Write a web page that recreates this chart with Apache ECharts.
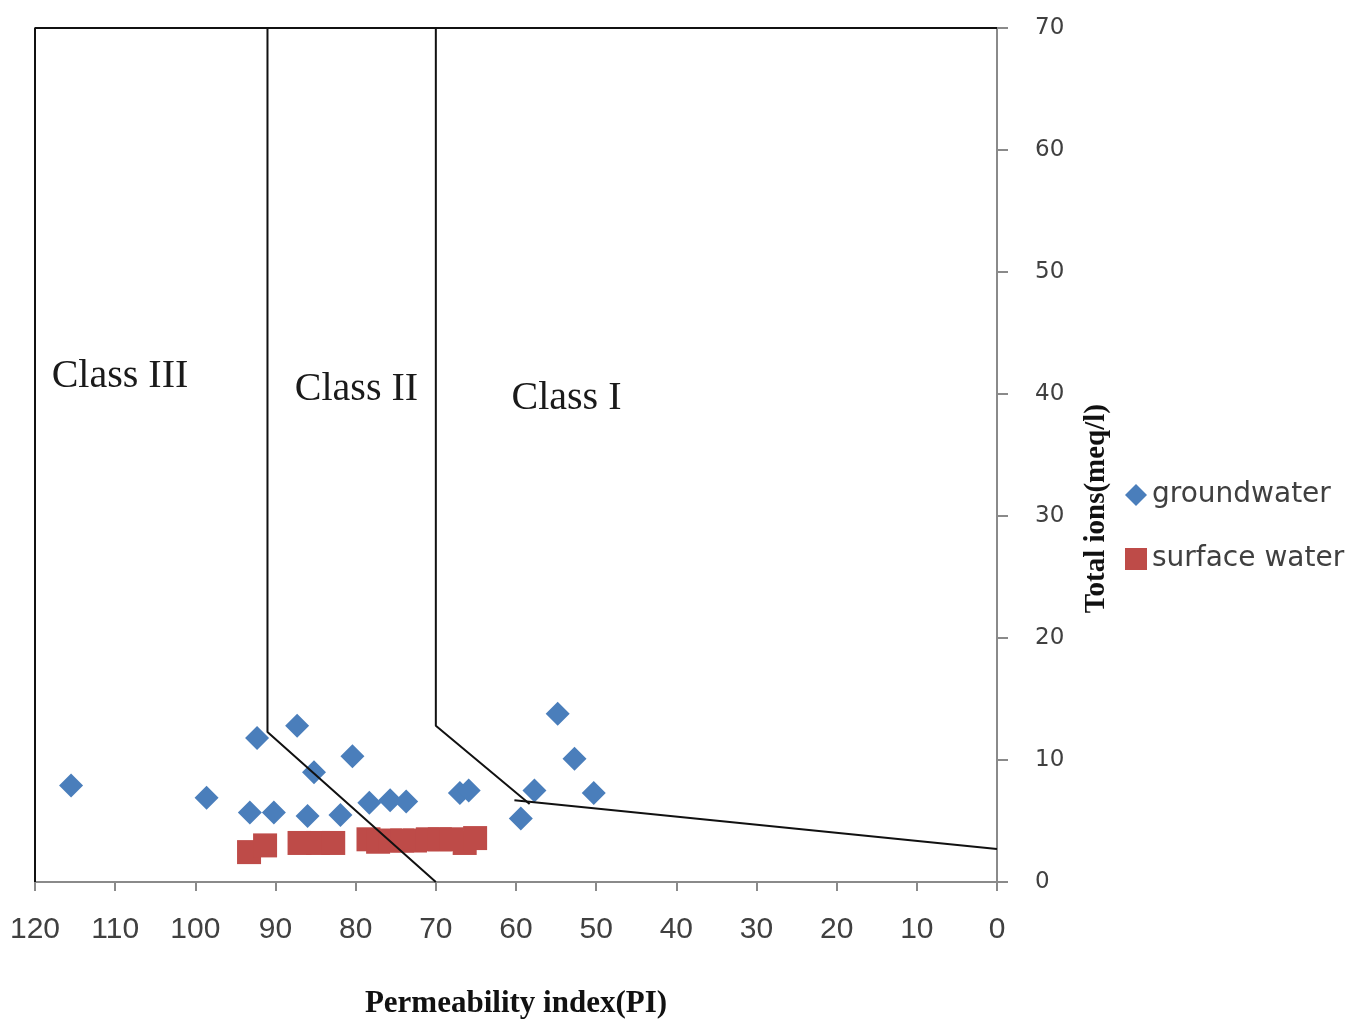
<!DOCTYPE html>
<html>
<head>
<meta charset="utf-8">
<script src="https://cdn.jsdelivr.net/npm/echarts@6/dist/echarts.min.js"></script>
<style>html,body{margin:0;padding:0;background:#fff;}#c{width:1359px;height:1024px;}</style>
</head>
<body>
<div id="c"></div>
<script>
// Data
var groundwater = [
  [115.5, 7.9], [98.6, 6.9], [92.3, 11.8], [87.3, 12.8], [93.2, 5.7], [90.2, 5.7],
  [85.2, 9.0], [86.0, 5.4], [80.4, 10.3], [81.9, 5.5], [78.3, 6.5], [75.7, 6.7],
  [73.7, 6.6], [67.0, 7.3], [65.9, 7.5], [54.8, 13.8], [52.7, 10.1], [57.7, 7.5],
  [59.4, 5.2], [50.3, 7.3]
];
var surfaceWater = [
  [93.3, 2.45], [91.3, 3.0], [87.0, 3.2], [84.7, 3.2], [82.8, 3.2], [78.4, 3.5],
  [77.2, 3.3], [75.7, 3.4], [74.2, 3.4], [72.6, 3.4], [71.0, 3.5], [69.5, 3.5],
  [68.0, 3.5], [66.4, 3.2], [65.1, 3.6]
];
// Class boundary lines (PI, total ions)
var outerBoundary = [[120, 0], [120, 70], [0, 70]];
var classIIBoundary = [[91, 70], [91, 12.3], [70, 0]];
var classIBoundary = [[70, 70], [70, 12.8], [58.3, 6.4]];
var classILowBoundary = [[60.2, 6.7], [0, 2.7]];
var classLabels = [
  {name: 'Class III', value: [109.4, 41.4]},
  {name: 'Class II', value: [79.9, 40.4]},
  {name: 'Class I', value: [53.7, 39.6]}
];
var xTicks = {min: 0, max: 120, interval: 10};
var yTicks = {min: 0, max: 70, interval: 10};

var chart = echarts.init(document.getElementById('c'), null, {renderer: 'canvas'});
var lineStyleBlack = {color: '#111', width: 2};
function boundary(data) {
  return {type: 'line', data: data, symbol: 'none', silent: true, z: 5,
    lineStyle: lineStyleBlack, animation: false};
}
var option = {
  backgroundColor: '#fff',
  animation: false,
  grid: {left: 35, right: 362, top: 28, bottom: 140},
  legend: {
    orient: 'vertical', left: 1120, top: 476, itemWidth: 22, itemHeight: 22, itemGap: 36,
    textStyle: {fontFamily: 'DejaVu Sans', fontSize: 28, color: '#404040'},
    data: [{name: 'groundwater', icon: 'diamond'}, {name: 'surface water', icon: 'rect'}]
  },
  xAxis: {
    type: 'value', inverse: true, min: xTicks.min, max: xTicks.max, interval: xTicks.interval,
    name: 'Permeability index(PI)', nameLocation: 'middle', nameGap: 106,
    nameTextStyle: {fontFamily: 'Liberation Serif', fontWeight: 'bold', fontSize: 31, color: '#111'},
    axisLine: {lineStyle: {color: '#8a8a8a', width: 2}},
    axisTick: {length: 9, lineStyle: {color: '#8a8a8a', width: 2}},
    axisLabel: {margin: 33, fontFamily: 'Liberation Sans', fontSize: 30, color: '#404040'},
    splitLine: {show: false}
  },
  yAxis: {
    type: 'value', position: 'right', min: yTicks.min, max: yTicks.max, interval: yTicks.interval,
    axisLine: {show: true, lineStyle: {color: '#8a8a8a', width: 2}},
    axisTick: {show: true, length: 11, lineStyle: {color: '#8a8a8a', width: 2}},
    axisLabel: {margin: 38, fontFamily: 'DejaVu Sans', fontSize: 23, color: '#404040'},
    splitLine: {show: false}
  },
  graphic: [{
    type: 'text', left: 1082, top: 404, rotation: Math.PI / 2,
    style: {text: 'Total ions(meq/l)', font: 'bold 29px "Liberation Serif"', fill: '#111'}
  }],
  series: [
    {name: 'groundwater', type: 'scatter', symbol: 'diamond', symbolSize: 24, z: 3,
      itemStyle: {color: '#4a7ebb', opacity: 1}, data: groundwater},
    {name: 'surface water', type: 'scatter', symbol: 'rect', symbolSize: 24, z: 2,
      itemStyle: {color: '#be4b48', opacity: 1}, data: surfaceWater},
    boundary(outerBoundary),
    boundary(classIIBoundary),
    boundary(classIBoundary),
    boundary(classILowBoundary),
    {type: 'scatter', symbolSize: 0, silent: true, z: 6, data: classLabels,
      itemStyle: {opacity: 1},
      label: {show: true, position: 'inside', formatter: '{b}', opacity: 1,
        fontFamily: 'Liberation Serif', fontSize: 40, color: '#1a1a1a'}}
  ]
};
chart.setOption(option);
</script>
</body>
</html>
